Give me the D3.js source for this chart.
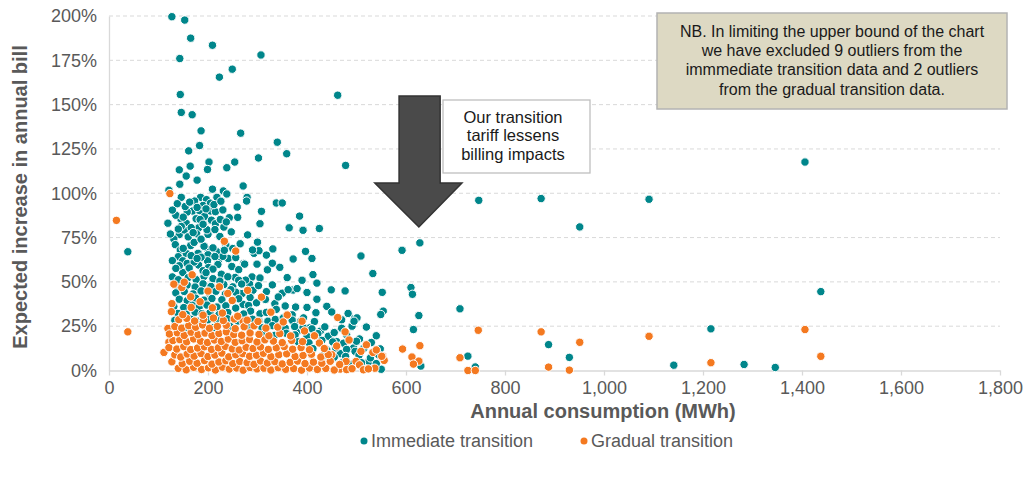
<!DOCTYPE html>
<html><head><meta charset="utf-8">
<script src="https://cdn.jsdelivr.net/npm/d3@7"></script>
<style>
body{margin:0;background:#fff}
text{font-family:"Liberation Sans",Arial,sans-serif}
</style>
</head><body>
<svg id="chart" width="1026" height="481"></svg>
<script>
// ---------- DATA ----------
const xTickValues = [0,200,400,600,800,1000,1200,1400,1600,1800];
const yTickValues = [0,25,50,75,100,125,150,175,200];
const seriesNames = ["Immediate transition","Gradual transition"];
const seriesColors = ["#00868B","#F47920"];

// Immediate transition: [annual consumption MWh, expected increase %]
const immediatePoints = [
[127,199.6],[153,197.7],[165,187.5],[209,183.5],[143,176],[307,178],[249,170],[223,165.5],[144,155.7],[462,155.3],
[146,145.6],[168,144.3],[186,135.2],[266,133.9],[340,128.8],[183,126.9],[359,122.3],[161,123.9],[478,115.7],[142,113.2],
[164,115.3],[202,117.6],[199,113.4],[238,114.4],[254,117.6],[302,119.9],[156,109.7],[178,107.4],[143,105.1],[209,102.3],
[231,101.3],[238,99.6],[271,104.1],[121,101.7],[146,97.7],[185,97.7],[218,97.7],[279,97.7],[138,94.1],[173,95.6],
[197,96.4],[259,92.2],[119,83.1],[38,67],[169,90],[183,90.2],[205,90],[215,89.6],[145,85.6],[156,83.1],
[176,85.6],[193,86.9],[207,84.8],[215,82.8],[225,85.2],[232,80.9],[243,86.2],[142,76.7],[152,79.3],[146,81.3],
[181,80.5],[177,77.1],[131,74.2],[134,71],[165,70.5],[172,72.3],[144,68],[156,66.1],[180,66.1],[199,68.4],
[200,65.3],[218,67],[241,63.2],[221,61.9],[140,64.2],[149,61.9],[181,59.5],[199,61.9],[201,58.1],[272,60.4],
[149,55.3],[227,54.3],[255,52.5],[142,59.1],[278,95.6],[338,94.5],[350,94.5],[308,89.8],[385,87.1],[305,82.8],
[364,80.5],[392,79.1],[425,80.1],[293,66.1],[303,67.6],[290,68],[331,68.6],[318,65.1],[397,67.2],[372,62.9],
[410,63.2],[509,64.6],[274,60],[299,60],[412,54.1],[533,54.7],[289,52.8],[390,50.9],[747,96],[873,97],
[592,67.8],[628,72],[552,44.1],[610,46.8],[613,43],[554,33.5],[549,31.6],[709,34.8],[626,31],[615,23.1],
[888,14.6],[630,2.5],[725,8.1],[740,2],[550,0.7],[1091,96.6],[1406,117.6],[1438,44.5],[1216,23.5],[1141,3],
[1283,3.4],[1346,1.7],[951,81],[930,7.4],[449,45.5],[477,44.9],[483,32.2],[496,29.3],[501,29.7],[491,25],
[495,27.8],[460,16.3],[506,17.8],[447,19.7],[494,12.7],[467,9.5],[525,5.1],[284,48.7],[291,45.3],[276,51],
[269,43.4],[420,40.2],[271,37.3],[282,36.7],[298,38.2],[335,37.7],[338,34.5],[377,35.8],[305,32],[286,33.5],
[321,27.8],[336,28.8],[387,27.8],[393,29.7],[405,24],[303,27.8],[427,22.2],[443,19.3],[380,21.8],[497,10.8],
[160,52.4],[176,51.3],[192,53.1],[210,51.8],[240,52.9],[262,50.9],[305,52.2],
[138,47.6],[158,48.2],[174,47.1],[190,48.9],[206,47.4],[232,48.5],[250,47.2],[268,48.8],[302,47.9],[330,48.3],
[135,43.8],[152,44.6],[170,43.2],[186,44.9],[203,43.5],[216,44.7],[235,43.1],[256,44.2],[318,44.5],[350,43.6],[372,45.4],[400,44],
[142,40.2],[158,39.4],[175,40.8],[192,39.7],[208,40.6],[228,39.9],[262,40.5],[285,41.2],[316,40.1],[342,41.5],
[131,36.1],[151,35.5],[168,36.8],[182,35.7],[198,36.9],[218,35.8],[236,36.5],[256,35.2],[356,36.4],[400,35.6],[440,36.2],
[139,32.2],[156,31.7],[174,32.9],[188,32.1],[204,32.6],[222,31.5],[240,32.7],[272,31.9],[318,32.8],[370,31.4],[418,32.6],[450,33],
[133,28.3],[165,28.9],[182,27.8],[200,28.6],[219,28.1],[239,29.2],[260,27.9],[290,28.9],[352,29.6],[370,28.4],[415,27.6],[470,28.6],
[154,24.3],[210,24.2],[245,24.8],[283,24.6],[309,24.1],[330,25.3],[356,23.9],[375,24.8],[392,24.3],[410,23.5],[436,24.6],[470,23.8],[520,24.5],
[312,20.3],[335,19.8],[358,21],[376,20.1],[400,19.4],[422,20.8],[455,21.4],[480,20.2],[540,19.6],
[382,16.2],[404,15.6],[430,17],[452,16.1],[474,15.4],[500,16.5],[530,15.8],
[412,12.3],[440,11.6],[458,12.8],[480,11.9],[515,12.6],[548,12.2],
[432,8.3],[455,7.5],[478,7.9],[505,8.6],[528,7.1],[545,8.8],
[470,4.2],[490,3.5],[510,4.4],[540,3.9],
[158,60.4],[172,61.2],[220,59.8],[248,58.7],[262,56.9],[190,56.3],[210,57.2],[135,57.6],[166,64.8],[186,63.9],
[230,64.4],[256,63.7],[150,68.9],[192,70.1],[210,69.2],[236,70.8],[160,75.4],[186,74.1],[200,76.8],[224,75.6],
[140,79.8],[166,80.6],[198,79.4],[247,78.2],[135,87.6],[158,89.4],[184,85.2],[230,90.6],[154,92.5],[190,93.1],
[205,94.4],[260,86.4],[280,76.5],[300,72.4],[265,71.5],[320,56.8],[345,58.2],[360,52.4],[330,60.5],[380,46.2],
[420,49.3],[362,45.6],
[128,90.5],[150,86.5],[163,95],[178,92],[196,91.2],[212,93.6],[226,95.5],[124,77],[170,77.8],[190,82.5],
[214,79.5],[237,83.8],[128,62],[162,57.8],[178,63.2],[196,55.2],[214,64.3],[233,67.8],[250,68.8],[128,52.8],
[140,51.2],[224,50.4],[246,45.6]
];

// Gradual transition: [annual consumption MWh, expected increase %]
const gradualPoints = [
[15,84.7],[123,99.8],[38,21.8],[233,72.9],[256,67.4],[168,54],[223,47.2],[308,41.4],[127,37.7],[249,39.5],
[165,41.6],[209,35.4],[360,31.3],[462,29.9],[131,48.7],[147,46.8],[152,49.8],[746,22.7],[873,21.8],[593,12.1],
[628,14],[612,7.6],[626,5.3],[615,3.6],[709,7.2],[725,0],[740,0],[888,1.9],[553,8],[556,5.7],
[1091,19.3],[1406,23.1],[1438,8],[1216,4.4],[951,15.9],[930,0.2],[477,21.8],[509,10.8],[533,10.2],[551,8],
[450,8.9],[479,5.1],[499,5.1],[506,3.2],[537,1.3],[467,0.8],[480,0.5],[491,1],[514,0.4],[524,0.9],
[271,27.8],[425,15.5],[111,10.2],[121,16],[119,23.7],
[140,1.2],[156,0.4],[171,1.8],[187,0.6],[201,1.5],[215,0.3],[229,1.9],[243,0.8],[258,1.4],[271,0.2],[285,1.7],
[299,0.9],[313,1.3],[327,0.3],[342,1.6],[357,0.7],[373,1.1],[389,0.2],[405,1.4],[421,0.6],[438,1.2],[455,0.3],
[127,4.9],[148,3.8],[163,5.2],[178,4.1],[193,5.6],[208,3.6],[222,4.8],[236,5.5],[250,3.9],[264,5.1],[279,4.4],
[293,3.5],[306,5.4],[320,4.2],[335,5],[350,3.7],[366,4.6],[381,5.3],[396,3.9],[413,4.7],[430,4.1],[447,5.2],[466,3.4],
[133,8.8],[145,7.6],[158,9.3],[172,8.1],[186,9.6],[200,7.9],[214,8.7],[228,9.8],[242,7.7],[256,8.9],[270,9.5],
[284,8],[298,8.6],[312,9.7],[327,7.8],[343,8.9],[359,9.4],[376,7.9],[392,8.5],[409,9.2],[428,7.6],[443,9],
[121,12.9],[137,12.1],[151,13.5],[165,11.8],[179,12.7],[193,13.4],[207,11.9],[221,12.8],[235,13.6],[249,12.2],
[263,11.6],[277,13.1],[291,12.4],[306,13.3],[322,11.9],[338,12.8],[354,13.5],[371,12],[388,12.9],[405,11.7],
[129,16.9],[143,17.4],[157,16.2],[171,17.8],[185,16.5],[199,15.8],[213,17.2],[227,16.4],[241,17.7],[255,15.9],
[269,16.8],[284,17.5],[299,16.1],[315,17.3],[332,16.6],[350,15.7],[369,17],[391,16.3],
[122,20.6],[138,21.3],[152,19.8],[166,21.6],[180,20.2],[194,21.1],[208,19.7],[222,20.9],[237,21.8],[252,20.3],
[268,19.9],[285,21.2],[303,20.4],[323,19.6],[345,20.8],[367,19.5],
[133,24.8],[147,23.9],[161,25.3],[175,24.4],[189,25.7],[203,23.8],[219,24.9],[237,25.5],[255,23.6],[273,24.7],
[293,25.2],[317,23.9],[341,24.5],
[141,28.7],[157,29.4],[173,27.9],[191,28.8],[211,29.6],[231,28.2],[253,29.1],[279,28.4],[301,27.7],
[126,33.2],[149,31.5],[166,35.6],[190,31.2],[229,32.4],[260,30.6],[184,38.8],[240,43.5],[200,44.8],[280,45.2],
[327,32.9],[352,27.4],[395,22.3],[415,19.6],[435,12.4],[460,13.8],[485,17.2],[520,14.5],[540,11.6],[390,27.8]
];

// ---------- LAYOUT ----------
const svg = d3.select("#chart");
const x = d3.scaleLinear().domain([0,1800]).range([109,1000]);
const y = d3.scaleLinear().domain([0,200]).range([370.5,16]);
const axisGrey = "#D9D9D9", textGrey = "#595959";

// gridlines
svg.append("g").selectAll("line").data(yTickValues.filter(d=>d>0)).join("line")
  .attr("x1", x(0)).attr("x2", x(1800))
  .attr("y1", d=>y(d)).attr("y2", d=>y(d))
  .attr("stroke", axisGrey).attr("stroke-width",1).attr("stroke-dasharray","4,3");

// x axis
const gx = svg.append("g").attr("transform",`translate(0,${y(0)})`)
  .call(d3.axisBottom(x).tickValues(xTickValues).tickSize(5).tickSizeOuter(0).tickPadding(6).tickFormat(d3.format(",")));
gx.select(".domain").attr("stroke", axisGrey).attr("stroke-width",1.3);
gx.selectAll(".tick line").attr("stroke", axisGrey).attr("stroke-width",1.3);
gx.selectAll(".tick text").attr("fill", textGrey).style("font-size","18px").style("font-family","'Liberation Sans',Arial,sans-serif");

// y axis
const gy = svg.append("g").attr("transform",`translate(${x(0)},0)`)
  .call(d3.axisLeft(y).tickValues(yTickValues).tickSize(0).tickPadding(12).tickFormat(d=>d+"%"));
gy.select(".domain").attr("stroke", axisGrey).attr("stroke-width",1.3);
gy.selectAll(".tick text").attr("fill", textGrey).style("font-size","18px").style("font-family","'Liberation Sans',Arial,sans-serif");

// points
const series = [immediatePoints, gradualPoints];
series.forEach((pts,i)=>{
  svg.append("g").selectAll("circle").data(pts).join("circle")
    .attr("cx", d=>x(d[0])).attr("cy", d=>y(d[1])).attr("r",4.2)
    .attr("fill", seriesColors[i]).attr("stroke","#fff").attr("stroke-width",1);
});

// axis titles
svg.append("text").attr("x",603).attr("y",418).attr("text-anchor","middle")
  .attr("fill",textGrey).style("font-size","20px").style("font-weight","bold")
  .text("Annual consumption (MWh)");
svg.append("text").attr("transform","translate(27,197) rotate(-90)").attr("text-anchor","middle")
  .attr("fill",textGrey).style("font-size","20px").style("font-weight","bold")
  .text("Expected increase in annual bill");

// legend
const legendX = [364, 584];
seriesNames.forEach((n,i)=>{
  svg.append("circle").attr("cx",legendX[i]).attr("cy",441).attr("r",3.5).attr("fill",seriesColors[i]);
  svg.append("text").attr("x",legendX[i]+7).attr("y",441).attr("dy","0.35em")
    .attr("fill",textGrey).style("font-size","18px").text(n);
});

// arrow annotation (in data units)
const arrow = [[586,154.9],[669,154.9],[669,105.8],[713,105.8],[626,81],[537,105.8],[586,105.8]];
svg.append("path").attr("d", d3.line().x(d=>x(d[0])).y(d=>y(d[1]))(arrow)+"Z")
  .attr("fill","#4A4A4A").attr("stroke","#333").attr("stroke-width",1.5);

// callout box
svg.append("rect").attr("x",443).attr("y",100).attr("width",147).attr("height",73)
  .attr("fill","#fff").attr("stroke","#BFBFBF").attr("stroke-width",1.3);
["Our transition","tariff lessens","billing impacts"].forEach((t,i)=>{
  svg.append("text").attr("x",513).attr("y",117+i*18.5).attr("dy","0.35em").attr("text-anchor","middle")
    .attr("fill","#1a1a1a").style("font-size","16.5px").text(t);
});

// NB box
svg.append("rect").attr("x",657).attr("y",13).attr("width",350).attr("height",96)
  .attr("fill","#DDD9C3").attr("stroke","#B3B3B3").attr("stroke-width",1.5);
["NB. In limiting the upper bound of the chart","we have excluded 9 outliers from the",
 "immmediate transition data and 2 outliers","from the gradual transition data."].forEach((t,i)=>{
  svg.append("text").attr("x",832).attr("y",31+i*19.3).attr("dy","0.35em").attr("text-anchor","middle")
    .attr("fill","#1a1a1a").style("font-size","16px").text(t);
});
</script>
</body></html>
